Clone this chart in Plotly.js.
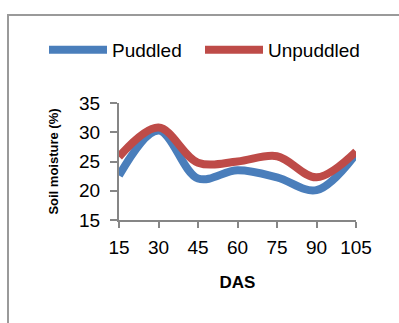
<!DOCTYPE html>
<html><head><meta charset="utf-8">
<script src="https://cdn.plot.ly/plotly-3.0.1.min.js"></script>
<style>
html,body{margin:0;padding:0;background:#fff;overflow:hidden;width:399px;height:323px;}
#chart{position:absolute;left:0;top:0;width:399px;height:323px;}
#frame{position:absolute;left:7px;top:14px;width:420px;height:340px;border-left:2px solid #9a9a9a;border-top:2px solid #9a9a9a;pointer-events:none;}
</style></head><body>
<div id="chart"></div><div id="frame"></div>
<script>
const das = [15, 30, 45, 60, 75, 90, 105];
const xTickLabels = ['15', '30', '45', '60', '75', '90', '105'];
const puddled = [22.6, 30.3, 22.1, 23.5, 22.3, 20.1, 26.3];
const unpuddled = [25.8, 30.8, 24.8, 25.0, 25.9, 22.3, 26.7];
const seriesNames = ['Puddled', 'Unpuddled'];
const yTicks = [15, 20, 25, 30, 35];

const FONT = 'Liberation Sans, Arial, sans-serif';
const AX = '#868686';

const traces = [
  {x: das, y: puddled, name: seriesNames[0], type: 'scatter', mode: 'lines', legend: 'legend',
   line: {color: '#4a7ebb', width: 8, shape: 'spline', smoothing: 1}},
  {x: das, y: unpuddled, name: seriesNames[1], type: 'scatter', mode: 'lines', legend: 'legend2',
   line: {color: '#be4b48', width: 8, shape: 'spline', smoothing: 1}}
];

function legendBox(leftPx) {
  return {orientation: 'h', xref: 'paper', yref: 'paper',
          x: (leftPx - 119) / 237, xanchor: 'left', y: (220 - 50) / 117, yanchor: 'middle',
          font: {size: 19, family: FONT, color: '#000'}, itemwidth: 58,
          bgcolor: 'rgba(0,0,0,0)', borderwidth: 0};
}

const layout = {
  width: 399, height: 323,
  margin: {l: 119, r: 43, t: 103, b: 103},
  paper_bgcolor: '#fff', plot_bgcolor: '#fff',
  font: {family: FONT, color: '#000'},
  showlegend: true,
  legend: legendBox(44),
  legend2: legendBox(200),
  xaxis: {range: [15, 105], tickvals: das, ticktext: xTickLabels,
          ticks: 'outside', ticklen: 6, tickwidth: 2, tickcolor: AX,
          showline: true, linecolor: AX, linewidth: 2, showgrid: false, zeroline: false,
          tickfont: {size: 19, family: FONT, color: '#000'}, ticklabelstandoff: 3,
          title: {text: 'DAS', font: {size: 17, family: FONT, weight: 'bold', color: '#000'}, standoff: 19}},
  yaxis: {range: [15, 35], tickvals: yTicks,
          ticks: 'outside', ticklen: 7, tickwidth: 2, tickcolor: AX,
          showline: true, linecolor: AX, linewidth: 2, showgrid: false, zeroline: false,
          tickfont: {size: 19, family: FONT, color: '#000'}, ticklabelstandoff: 6,
          title: {text: 'Soil moisture (%)', font: {size: 13, family: FONT, weight: 'bold', color: '#000'}, standoff: 18}}
};

Plotly.newPlot('chart', traces, layout, {staticPlot: true, displayModeBar: false});
</script>
</body></html>
